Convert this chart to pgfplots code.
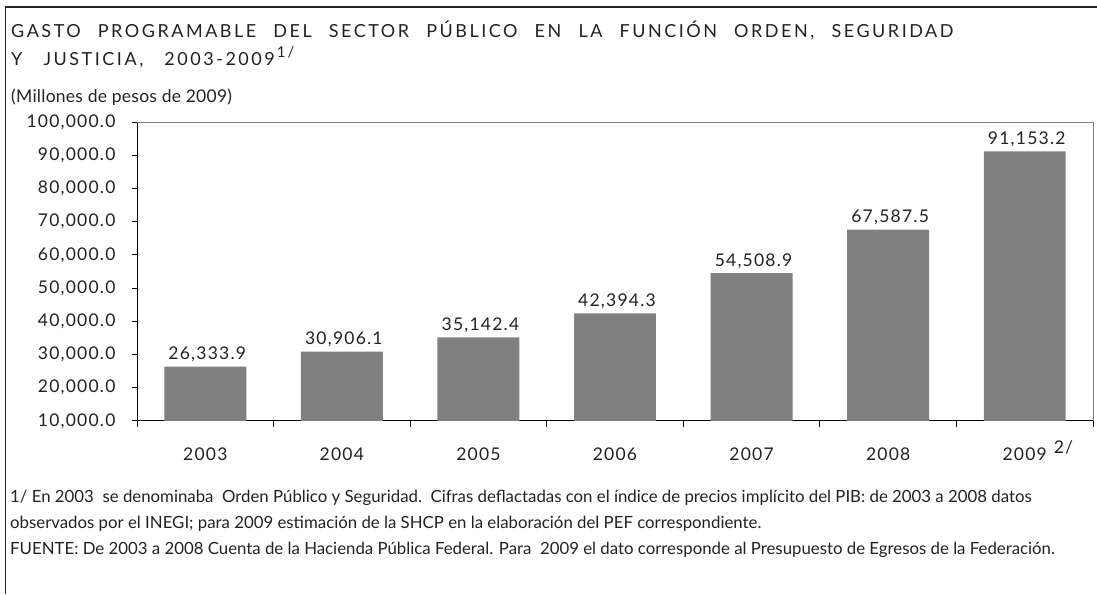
\documentclass[border=0pt]{standalone}
\usepackage{fontspec}
\setmainfont{Lato}
\newfontfamily\titlefont[LetterSpace=14,WordSpace=2.4]{Lato}
\newfontfamily\subfont[LetterSpace=1.5]{Lato}
\newfontfamily\numfont[LetterSpace=7]{Lato}
\usepackage{pgfplots}
\pgfplotsset{compat=1.18}
\definecolor{barg}{HTML}{808080}
\definecolor{txt}{HTML}{222222}
\begin{document}
\begin{tikzpicture}
\path[use as bounding box] (0pt,0pt) rectangle (1097pt,594pt);
\draw[line width=1.2pt, black!85] (5.5pt,0pt) -- (5.5pt,587pt) -- (1097pt,587pt);
\node[anchor=base west, inner sep=0, text=txt, font=\titlefont\fontsize{18}{21}\selectfont] at (11pt,556pt) {GASTO PROGRAMABLE DEL SECTOR PÚBLICO EN LA FUNCIÓN ORDEN, SEGURIDAD};
\node[anchor=base west, inner sep=0, text=txt, font=\titlefont\fontsize{18}{21}\selectfont] at (11pt,528pt) {Y\hspace{4pt} JUSTICIA,\hspace{4pt} 2003-2009\raisebox{8pt}{\fontsize{15}{17}\selectfont\hspace{2pt}1/}};
\node[anchor=base west, inner sep=0, text=txt, font=\subfont\fontsize{17.5}{21}\selectfont] at (11pt,491pt) {(Millones de pesos de 2009)};
\begin{axis}[
  at={(137pt,173pt)}, anchor=south west, scale only axis,
  width=956pt, height=299pt,
  xmin=-0.5, xmax=6.5, ymin=10000, ymax=100000,
  axis x line*=bottom, axis y line*=left,
  axis line style={line width=1pt, black},
  ytick={10000,20000,...,100000},
  scaled y ticks=false,
  /pgf/number format/fixed, /pgf/number format/fixed zerofill,
  /pgf/number format/precision=1, /pgf/number format/1000 sep={,},
  /pgf/number format/assume math mode=true,
  yticklabel style={font=\numfont\fontsize{17.5}{20}\selectfont, text=txt, xshift=-13pt},
  xtick={0,...,6},
  xticklabels={2003,2004,2005,2006,2007,2008,{2009\rlap{\hspace{7pt}\raisebox{7pt}{2/}}}},
  xticklabel style={font=\numfont\fontsize{17.5}{20}\selectfont, text=txt, anchor=base, yshift=-35pt},
  major x tick style={draw=none},
  minor xtick={-0.5,0.5,...,6.5},
  tick align=outside,
  major tick length=5pt, minor tick length=6pt,
  tick style={black, line width=1pt},
  ybar, bar width=0.6,
  point meta=explicit symbolic,
  nodes near coords,
  every node near coord/.append style={font=\numfont\fontsize{17.5}{20}\selectfont, text=txt, anchor=base, yshift=7pt, xshift=2pt},
  clip=false,
]
\addplot[fill=barg, draw=none] coordinates {
 (0,26333.9) [26,333.9]
 (1,30906.1) [30,906.1]
 (2,35142.4) [35,142.4]
 (3,42394.3) [42,394.3]
 (4,54508.9) [54,508.9]
 (5,67587.5) [67,587.5]
 (6,91153.2) [91,153.2]
};
\draw[barg, line width=1pt] (rel axis cs:0,1) -- (rel axis cs:1,1) -- (rel axis cs:1,0);
\end{axis}
\node[anchor=base west, inner sep=0, text=txt, font=\fontsize{16.8}{20}\selectfont] at (10pt,91pt) {1/ En 2003\ \ se denominaba\ \ Orden Público y Seguridad.\ \ Cifras deflactadas con el índice de precios implícito del PIB: de 2003 a 2008 datos};
\node[anchor=base west, inner sep=0, text=txt, font=\fontsize{16.8}{20}\selectfont] at (10pt,65pt) {observados por el INEGI; para 2009 estimación de la SHCP en la elaboración del PEF correspondiente.};
\node[anchor=base west, inner sep=0, text=txt, font=\fontsize{16.8}{20}\selectfont] at (10pt,39pt) {FUENTE: De 2003 a 2008 Cuenta de la Hacienda Pública Federal. Para\ \ 2009 el dato corresponde al Presupuesto de Egresos de la Federación.};
\end{tikzpicture}
\end{document}
